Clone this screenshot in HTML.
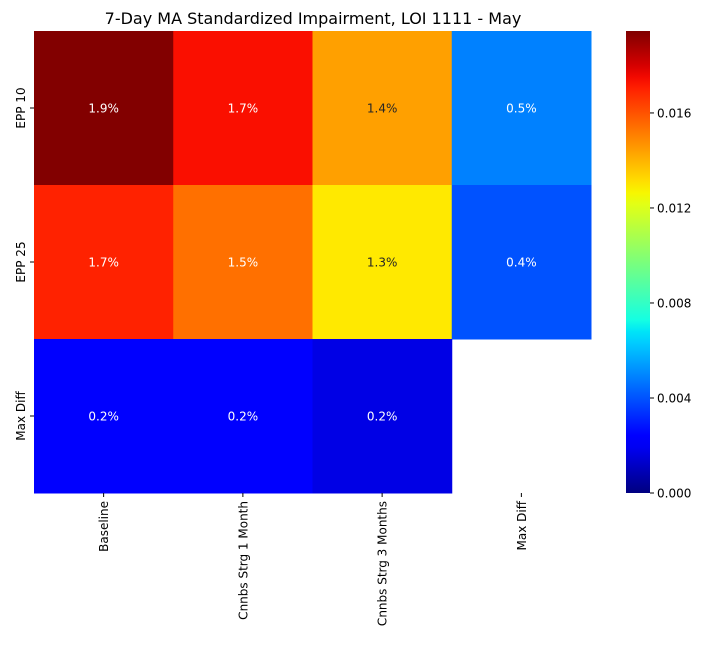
<!DOCTYPE html>
<html><head><meta charset="utf-8"><style>
body{margin:0;background:#fff;font-family:"DejaVu Sans","Liberation Sans",sans-serif;}
svg text{font-family:"DejaVu Sans","Liberation Sans",sans-serif;}
</style></head><body>
<svg id="chart" width="709" height="658" xmlns="http://www.w3.org/2000/svg">
<defs><linearGradient id="jetgrad" x1="0" y1="1" x2="0" y2="0"></linearGradient></defs>
<text x="313" y="24" font-size="16" text-anchor="middle">7-Day MA Standardized Impairment, LOI 1111 - May</text>
<g id="cells"></g><g id="ylabels"></g><g id="xlabels"></g><g id="cbar"></g>
</svg>
<script>
const rowLabels=["EPP 10","EPP 25","Max Diff"];
const colLabels=["Baseline","Cnnbs Strg 1 Month","Cnnbs Strg 3 Months","Max Diff"];
const row0=[0.0194,0.0174,0.0144,0.0049];
const row1=[0.0170,0.0154,0.0129,0.0040];
const row2=[0.0024,0.0024,0.0017,null];
const cbarTicks=[0,0.004,0.008,0.012,0.016];
const vmin=0,vmax=0.01945;
const rows=[row0,row1,row2];
const NS="http://www.w3.org/2000/svg";
const X0=34,X1=591,Y0=31,Y1=493;
const cw=(X1-X0)/colLabels.length,ch=(Y1-Y0)/rowLabels.length;
function interp(x,pts){for(let i=0;i<pts.length-1;i++){const[a,va]=pts[i],[b,vb]=pts[i+1];if(x>=a&&x<=b)return va+(vb-va)*(x-a)/(b-a);}return pts[pts.length-1][1];}
function jet(t){t=Math.max(0,Math.min(1,t));
const r=interp(t,[[0,0],[0.35,0],[0.66,1],[0.89,1],[1,0.5]]);
const g=interp(t,[[0,0],[0.125,0],[0.375,1],[0.64,1],[0.91,0],[1,0]]);
const b=interp(t,[[0,0.5],[0.11,1],[0.34,1],[0.65,0],[1,0]]);
return [r,g,b];}
function css(c){return "rgb("+c.map(v=>Math.round(v*255)).join(",")+")";}
function lin(v){return v<=0.03928?v/12.92:Math.pow((v+0.055)/1.055,2.4);}
function el(tag,attrs,parent,text){const e=document.createElementNS(NS,tag);for(const k in attrs)e.setAttribute(k,attrs[k]);if(text!==undefined)e.textContent=text;parent.appendChild(e);return e;}
const cells=document.getElementById('cells');
rows.forEach((row,i)=>row.forEach((v,j)=>{if(v===null)return;
const c=jet((v-vmin)/(vmax-vmin));
const r=el('rect',{x:X0+j*cw,y:Y0+i*ch,width:cw+0.5,height:ch+0.5,fill:css(c)},cells);


const lum=0.2126*lin(c[0])+0.7152*lin(c[1])+0.0722*lin(c[2]);
const t=el('text',{x:X0+(j+0.5)*cw,y:Y0+(i+0.5)*ch+4.5,'font-size':12,'text-anchor':'middle',fill:lum>0.408?'#262626':'#fff'},cells,(v*100).toFixed(1)+'%');


}));
const yl=document.getElementById('ylabels');
rowLabels.forEach((l,i)=>{const y=Y0+(i+0.5)*ch;
el('line',{x1:X0-4,x2:X0,y1:y,y2:y,stroke:'#000'},yl);
const t=el('text',{x:0,y:0,'font-size':12,'text-anchor':'middle',transform:`translate(${X0-9},${y}) rotate(-90)`},yl,l);

});
const xl=document.getElementById('xlabels');
colLabels.forEach((l,j)=>{const x=X0+(j+0.5)*cw;
el('line',{x1:x,x2:x,y1:Y1,y2:Y1+4,stroke:'#000'},xl);
const t=el('text',{x:0,y:0,'font-size':12,'text-anchor':'end',transform:`translate(${x+4.5},${Y1+8}) rotate(-90)`},xl,l);

});
const grad=document.getElementById('jetgrad');
for(let k=0;k<=40;k++){el('stop',{offset:k/40,'stop-color':css(jet(k/40))},grad);}
const cb=document.getElementById('cbar');
const CX=626,CW=24;
const cr=el('rect',{x:CX,y:Y0,width:CW,height:Y1-Y0,fill:'url(#jetgrad)'},cb);


cbarTicks.forEach(v=>{const y=Y1-(v-vmin)/(vmax-vmin)*(Y1-Y0);
el('line',{x1:CX+CW,x2:CX+CW+4,y1:y,y2:y,stroke:'#000'},cb);
const t=el('text',{x:CX+CW+7,y:y+4.5,'font-size':12},cb,v.toFixed(3));

});
</script>
</body></html>
